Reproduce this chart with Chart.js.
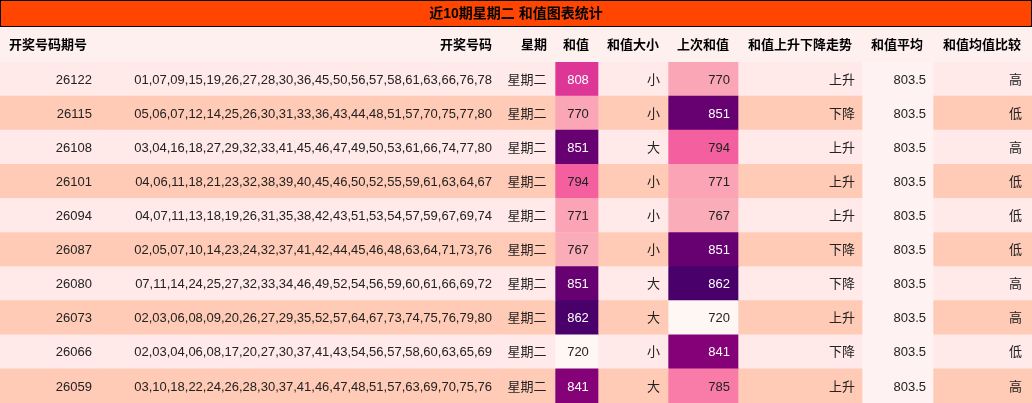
<!DOCTYPE html>
<html><head><meta charset="utf-8">
<script src="https://cdn.jsdelivr.net/npm/chart.js@4"></script>
<style>body{margin:0;background:#fff}canvas{display:block}</style>
</head><body>
<canvas id="c" width="1032" height="403"></canvas>
<script>
const title = '近10期星期二 和值图表统计';
const headers = ['开奖号码期号','开奖号码','星期','和值','和值大小','上次和值','和值上升下降走势','和值平均','和值均值比较'];
const issues = ['26122','26115','26108','26101','26094','26087','26080','26073','26066','26059'];
const numbers = [
  '01,07,09,15,19,26,27,28,30,36,45,50,56,57,58,61,63,66,76,78',
  '05,06,07,12,14,25,26,30,31,33,36,43,44,48,51,57,70,75,77,80',
  '03,04,16,18,27,29,32,33,41,45,46,47,49,50,53,61,66,74,77,80',
  '04,06,11,18,21,23,32,38,39,40,45,46,50,52,55,59,61,63,64,67',
  '04,07,11,13,18,19,26,31,35,38,42,43,51,53,54,57,59,67,69,74',
  '02,05,07,10,14,23,24,32,37,41,42,44,45,46,48,63,64,71,73,76',
  '07,11,14,24,25,27,32,33,34,46,49,52,54,56,59,60,61,66,69,72',
  '02,03,06,08,09,20,26,27,29,35,52,57,64,67,73,74,75,76,79,80',
  '02,03,04,06,08,17,20,27,30,37,41,43,54,56,57,58,60,63,65,69',
  '03,10,18,22,24,26,28,30,37,41,46,47,48,51,57,63,69,70,75,76'
];
const weekday = '星期二';
const sums = [808,770,851,794,771,767,851,862,720,841];
const sizes = ['小','小','大','小','小','小','大','大','小','大'];
const prevSums = [770,851,794,771,767,851,862,720,841,785];
const trends = ['上升','下降','上升','上升','上升','下降','下降','上升','下降','上升'];
const avg = '803.5';
const compare = ['高','低','高','低','低','低','高','高','低','高'];

const colEdges = [0,98,500,555,598,668,738,862,933,1032];
const rowA = '#ffe9e9', rowB = '#ffcbb6', avgBg = '#fff2f2';
const rdpu = ['#fff7f3','#fde0dd','#fcc5c0','#fa9fb5','#f768a1','#dd3497','#ae017e','#7a0177','#49006a'];
function heat(v){
  const t = Math.max(0,Math.min(1,(v-720)/(862-720)))*(rdpu.length-1);
  const i = Math.min(rdpu.length-2,Math.floor(t)), f=t-i;
  const a=rdpu[i],b=rdpu[i+1];
  const c=[1,3,5].map(k=>Math.round(parseInt(a.substr(k,2),16)*(1-f)+parseInt(b.substr(k,2),16)*f));
  return 'rgb('+c.join(',')+')';
}
function lum(v){return (v-720)/(862-720) > 0.55;}

const rows = issues.map((_,i)=>i);
const datasets = [];
for (let c=0;c<9;c++){
  datasets.push({
    data: rows.map(()=>[colEdges[c],colEdges[c+1]]),
    backgroundColor: rows.map(r=>{
      if (c===3) return heat(sums[r]);
      if (c===5) return heat(prevSums[r]);
      if (c===7) return avgBg;
      return r%2===0?rowA:rowB;
    }),
    borderWidth:0, barPercentage:1, categoryPercentage:1, grouped:false
  });
}

const textPlugin = {
  id:'tableText',
  afterDraw(chart){
    const ctx=chart.ctx, x=chart.scales.x, y=chart.scales.y;
    ctx.save();
    // title
    ctx.fillStyle='#ff4500'; ctx.fillRect(0,0,1032,27);
    ctx.strokeStyle='#000'; ctx.lineWidth=1; ctx.strokeRect(0.5,0.5,1031,26);
    ctx.fillStyle='#000'; ctx.font='bold 14px "Liberation Sans","Noto Sans CJK SC"';
    ctx.textAlign='center'; ctx.textBaseline='middle';
    ctx.fillText(title,516,14);
    // header
    ctx.fillStyle='#fff0f0'; ctx.fillRect(0,27,1032,35);
    ctx.fillStyle='#000'; ctx.font='bold 13px "Liberation Sans","Noto Sans CJK SC"';
    const hx=[[9,'left'],[492,'right'],[534,'center'],[576,'center'],[633,'center'],[703,'center'],[800,'center'],[897,'center'],[982,'center']];
    headers.forEach((h,i)=>{ctx.textAlign=hx[i][1]; ctx.fillText(h,hx[i][0],45);});
    // body
    ctx.font='13px "Liberation Sans","Noto Sans CJK SC"';
    rows.forEach(r=>{
      const yy=y.getPixelForValue(r)+1;
      const put=(t,px,al,col)=>{ctx.fillStyle=col||'#222';ctx.textAlign=al;ctx.fillText(t,x.getPixelForValue(px),yy);};
      put(issues[r],92,'right');
      put(numbers[r],492,'right');
      put(weekday,527,'center');
      put(String(sums[r]),578,'center',lum(sums[r])?'#fff':'#222');
      put(sizes[r],660,'right');
      put(String(prevSums[r]),730,'right',lum(prevSums[r])?'#fff':'#222');
      put(trends[r],855,'right');
      put(avg,926,'right');
      put(compare[r],1022,'right');
    });
    ctx.restore();
  }
};

new Chart(document.getElementById('c'),{
  type:'bar',
  data:{labels:rows.map(String),datasets},
  options:{
    indexAxis:'y', responsive:false, animation:false,
    layout:{padding:{top:62,left:0,right:0,bottom:0}},
    plugins:{legend:{display:false},tooltip:{enabled:false}},
    scales:{
      x:{type:'linear',min:0,max:1032,display:false},
      y:{display:false,offset:true}
    }
  },
  plugins:[textPlugin]
});
</script>
</body></html>
